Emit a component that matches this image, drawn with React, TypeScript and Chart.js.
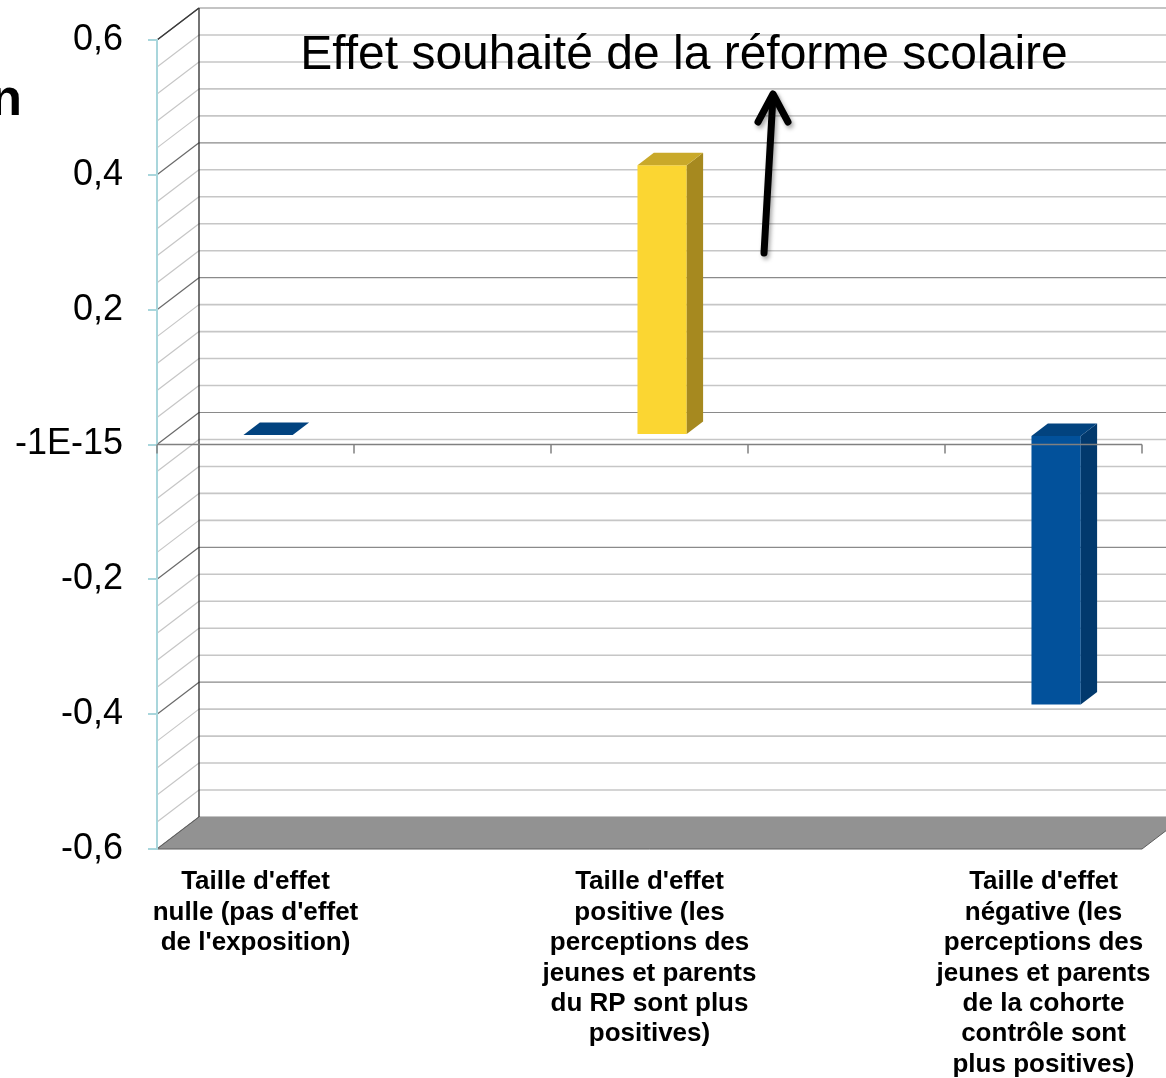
import React, { useEffect, useRef } from 'react';
import { Chart, registerables } from 'chart.js';

Chart.register(...registerables);

const FONT = "Arial, 'Liberation Sans', sans-serif";

// ---- data ----
const categories: (string | string[])[] = [
  ["Taille d'effet", "nulle (pas d'effet", "de l'exposition)"],
  "",
  ["Taille d'effet", "positive (les", "perceptions des", "jeunes et parents", "du RP sont plus", "positives)"],
  "",
  ["Taille d'effet", "négative (les", "perceptions des", "jeunes et parents", "de la cohorte", "contrôle sont", "plus positives)"],
];
const effectValues: (number | null)[] = [0, null, 0.4, null, -0.4];
const frontColors = ['#02519B', '#000000', '#FBD632', '#000000', '#02519B'];
const topColors = ['#02437F', '#000000', '#C9A92A', '#000000', '#02437F'];
const sideColors = ['#02396D', '#000000', '#A6891F', '#000000', '#02396D'];
const yMin = -0.6;
const yMax = 0.6;
const yStep = 0.2;
const minorStep = 0.04;
const titleText = 'Effet souhaité de la réforme scolaire';

// 3D geometry (projection of depth)
const DX = 42;
const DY = 32;
const BAR_OFF = 0.3;
const BAR_DEPTH = 0.39;

const zeroPadding = (s: any) => {
  s.paddingTop = 0;
  s.paddingBottom = 0;
  s.paddingLeft = 0;
  s.paddingRight = 0;
};

const wallsPlugin = {
  id: 'walls3d',
  beforeDraw(chart: any) {
    const { ctx, chartArea: a, scales } = chart;
    const y = scales.y;
    ctx.save();
    const n = Math.round((yMax - yMin) / minorStep);
    const perMajor = Math.round(yStep / minorStep);
    for (const pass of [0, 1]) {
      for (let k = 0; k <= n; k++) {
        const major = k % perMajor === 0;
        if ((pass === 1) !== major) continue;
        const v = yMin + k * minorStep;
        const yf = y.getPixelForValue(v);
        ctx.beginPath();
        ctx.strokeStyle = major ? '#8a8a8a' : '#c6c6c6';
        ctx.lineWidth = major ? 1.2 : 1.6;
        ctx.moveTo(a.left + DX, yf - DY);
        ctx.lineTo(a.right + DX, yf - DY);
        ctx.stroke();
        ctx.beginPath();
        ctx.strokeStyle = major ? '#6a6a6a' : '#c6c6c6';
        ctx.lineWidth = 1.2;
        ctx.moveTo(a.left, yf);
        ctx.lineTo(a.left + DX, yf - DY);
        ctx.stroke();
      }
    }
    ctx.strokeStyle = '#2a2a2a';
    ctx.lineWidth = 1.3;
    ctx.beginPath();
    ctx.moveTo(a.left + DX, a.top - DY);
    ctx.lineTo(a.left + DX, a.bottom - DY);
    ctx.stroke();
    ctx.strokeStyle = '#3a3a3a';
    ctx.beginPath();
    ctx.moveTo(a.left, a.top);
    ctx.lineTo(a.left + DX, a.top - DY);
    ctx.stroke();
    // floor
    ctx.beginPath();
    ctx.moveTo(a.left, a.bottom);
    ctx.lineTo(a.right, a.bottom);
    ctx.lineTo(a.right + DX, a.bottom - DY);
    ctx.lineTo(a.left + DX, a.bottom - DY);
    ctx.closePath();
    ctx.fillStyle = '#929292';
    ctx.fill();
    ctx.strokeStyle = '#5e5e5e';
    ctx.lineWidth = 1;
    ctx.beginPath();
    ctx.moveTo(a.left, a.bottom);
    ctx.lineTo(a.right, a.bottom);
    ctx.lineTo(a.right + DX, a.bottom - DY);
    ctx.stroke();
    ctx.beginPath();
    ctx.moveTo(a.left, a.bottom);
    ctx.lineTo(a.left + DX, a.bottom - DY);
    ctx.stroke();
    ctx.restore();
  },
  beforeDatasetsDraw(chart: any) {
    chart.ctx.save();
    chart.ctx.translate(DX * BAR_OFF, -DY * BAR_OFF);
  },
  afterDatasetsDraw(chart: any) {
    const { ctx, chartArea: a, scales } = chart;
    const meta = chart.getDatasetMeta(0);
    const sdx = DX * BAR_DEPTH;
    const sdy = DY * BAR_DEPTH;
    meta.data.forEach((el: any, i: number) => {
      if (effectValues[i] === null) return;
      const p = el.getProps(['x', 'y', 'base', 'width'], true);
      const top = Math.min(p.y, p.base);
      const bottom = Math.max(p.y, p.base);
      const l = p.x - p.width / 2;
      const r = p.x + p.width / 2;
      ctx.beginPath();
      ctx.moveTo(r, top);
      ctx.lineTo(r + sdx, top - sdy);
      ctx.lineTo(r + sdx, bottom - sdy);
      ctx.lineTo(r, bottom);
      ctx.closePath();
      ctx.fillStyle = sideColors[i];
      ctx.fill();
      ctx.beginPath();
      ctx.moveTo(l, top);
      ctx.lineTo(r, top);
      ctx.lineTo(r + sdx, top - sdy);
      ctx.lineTo(l + sdx, top - sdy);
      ctx.closePath();
      ctx.fillStyle = topColors[i];
      ctx.fill();
    });
    ctx.restore();

    const y0 = scales.y.getPixelForValue(0);
    ctx.save();
    ctx.strokeStyle = '#808080';
    ctx.lineWidth = 1.5;
    ctx.beginPath();
    ctx.moveTo(a.left, y0);
    ctx.lineTo(a.right, y0);
    ctx.stroke();
    const nCat = categories.length;
    for (let i = 0; i <= nCat; i++) {
      const xx = a.left + (i * (a.right - a.left)) / nCat;
      ctx.beginPath();
      ctx.moveTo(xx, y0);
      ctx.lineTo(xx, y0 + 9);
      ctx.stroke();
    }
    ctx.restore();

    ctx.save();
    ctx.fillStyle = '#000';
    ctx.font = `48px ${FONT}`;
    ctx.textAlign = 'center';
    ctx.textBaseline = 'alphabetic';
    ctx.fillText(titleText, 684, 69);
    ctx.font = `bold 52px ${FONT}`;
    ctx.textAlign = 'right';
    ctx.fillText('n', 22, 115);
    ctx.shadowColor = 'rgba(0,0,0,0.35)';
    ctx.shadowOffsetX = 2;
    ctx.shadowOffsetY = 3;
    ctx.shadowBlur = 4;
    ctx.strokeStyle = '#000';
    ctx.lineWidth = 7;
    ctx.lineCap = 'round';
    ctx.lineJoin = 'round';
    ctx.beginPath();
    ctx.moveTo(764, 253);
    ctx.lineTo(773, 96);
    ctx.stroke();
    ctx.beginPath();
    ctx.moveTo(758, 122);
    ctx.lineTo(773, 94);
    ctx.lineTo(788, 122);
    ctx.stroke();
    ctx.restore();
  },
};

export default function App() {
  const ref = useRef<HTMLCanvasElement | null>(null);
  useEffect(() => {
    if (!ref.current) return;
    const chart = new Chart(ref.current, {
      type: 'bar',
      data: {
        labels: categories as any,
        datasets: [
          {
            data: effectValues as any,
            backgroundColor: frontColors,
            borderWidth: 0,
            categoryPercentage: 0.25,
            barPercentage: 1,
            clip: false as any,
          },
        ],
      },
      options: {
        responsive: false,
        animation: false,
        layout: { padding: { top: 40, right: 24, left: 0, bottom: 0 } },
        plugins: { legend: { display: false }, tooltip: { enabled: false } },
        scales: {
          x: {
            grid: { display: false, drawTicks: false },
            border: { display: false },
            ticks: {
              color: '#000',
              autoSkip: false,
              maxRotation: 0,
              padding: 18,
              font: { family: FONT, size: 26, weight: 'bold', lineHeight: 1.17 },
            },
            afterFit: (s: any) => {
              s.height = 229;
              zeroPadding(s);
            },
          },
          y: {
            min: yMin,
            max: yMax,
            grid: { drawOnChartArea: false, color: '#a9d6dc', tickLength: 9, lineWidth: 2 },
            border: { color: '#a9d6dc', width: 2 },
            ticks: {
              stepSize: yStep,
              color: '#000',
              padding: 25,
              font: { family: FONT, size: 36 },
              callback: (v: any) => {
                const n = Number(v);
                if (Math.abs(n) < 1e-9) return '-1E-15';
                return n.toFixed(1).replace('.', ',');
              },
            },
            afterFit: (s: any) => {
              s.width = 157;
              zeroPadding(s);
            },
          },
        },
      },
      plugins: [wallsPlugin],
    });
    return () => chart.destroy();
  }, []);
  return (
    <div style={{ position: 'absolute', left: 0, top: 0, width: 1166, height: 1078, background: '#fff' }}>
      <canvas ref={ref} width={1166} height={1078} style={{ display: 'block', width: 1166, height: 1078 }} />
    </div>
  );
}
